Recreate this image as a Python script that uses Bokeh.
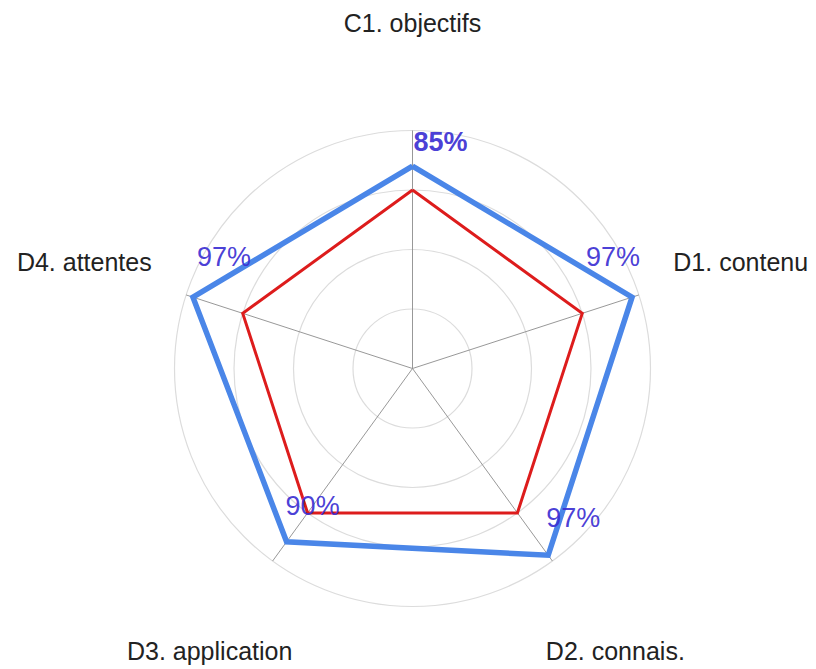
import numpy as np
from bokeh.plotting import figure
from bokeh.models import ColumnDataSource
from bokeh.core.properties import value
from bokeh.embed import file_html
from bokeh.resources import INLINE

# ---- data ----
categories = ["C1. objectifs", "D1. contenu", "D2. connais.", "D3. application", "D4. attentes"]
scores = [85, 97, 97, 90, 97]          # blue series (%)
target = [75, 75, 75, 75, 75]          # red reference series (%)
ring_levels = [25, 50, 75, 100]

# ---- layout / style ----
W, H = 816, 669
PX_PER_UNIT = 2.38
CX, CY = 412, 368          # centre in figure pixels (from top-left)
LABEL_R = 145
cat_dy = [0, 0, 3, 3, 0]           # px offsets of category labels (down)
label_dx = [1, -46, -2, -1, 4]     # px offsets of value labels
label_dy = [24, 40, 37, 36, 40]

n = len(categories)
angles = np.pi / 2 - 2 * np.pi * np.arange(n) / n

p = figure(width=W, height=H, output_backend="svg", toolbar_location=None,
           x_range=(-CX / PX_PER_UNIT, (W - CX) / PX_PER_UNIT),
           y_range=(-(H - CY) / PX_PER_UNIT, CY / PX_PER_UNIT),
           min_border=0)
p.axis.visible = False
p.grid.visible = False
p.outline_line_color = None
p.background_fill_color = "white"

# rings
p.circle(x=[0] * len(ring_levels), y=[0] * len(ring_levels), radius=ring_levels,
         fill_color=None, line_color="#dcdcdc", line_width=1.2)

# spokes
rmax = max(ring_levels)
p.segment(x0=[0] * n, y0=[0] * n, x1=list(rmax * np.cos(angles)), y1=list(rmax * np.sin(angles)),
          line_color="#8c8c8c", line_width=0.9)

def closed(vals):
    v = np.array(vals, dtype=float)
    xs = v * np.cos(angles)
    ys = v * np.sin(angles)
    return list(np.append(xs, xs[0])), list(np.append(ys, ys[0]))

tx, ty = closed(target)
p.line(tx, ty, line_color="#dd1c1c", line_width=3, line_join="miter")

sx, sy = closed(scores)
p.line(sx, sy, line_color="#4a86e8", line_width=5.5, line_join="miter")

# category labels
csrc = ColumnDataSource(dict(
    x=list(LABEL_R * np.cos(angles)), y=list(LABEL_R * np.sin(angles)),
    t=categories, dy=cat_dy,
))
p.text(x="x", y="y", text="t", y_offset="dy", source=csrc,
       text_font=value("Liberation Sans"), text_font_size="25px", text_color="#222222",
       text_align="center", text_baseline="middle")

# value labels
vals = np.array(scores, dtype=float)
src = ColumnDataSource(dict(
    x=list(vals * np.cos(angles)), y=list(vals * np.sin(angles)),
    t=[f"{v}%" for v in scores],
    dx=label_dx, dy=[-d for d in label_dy],
    fs=["bold", "normal", "normal", "normal", "normal"],
))
p.text(x="x", y="y", text="t", x_offset="dx", y_offset="dy", source=src,
       text_font=value("Liberation Sans"), text_font_size="27px", text_font_style="fs",
       text_color="#3a2ed2", text_alpha=0.92, text_align="left", text_baseline="middle")

open("out.html", "w").write(file_html(p, INLINE))
